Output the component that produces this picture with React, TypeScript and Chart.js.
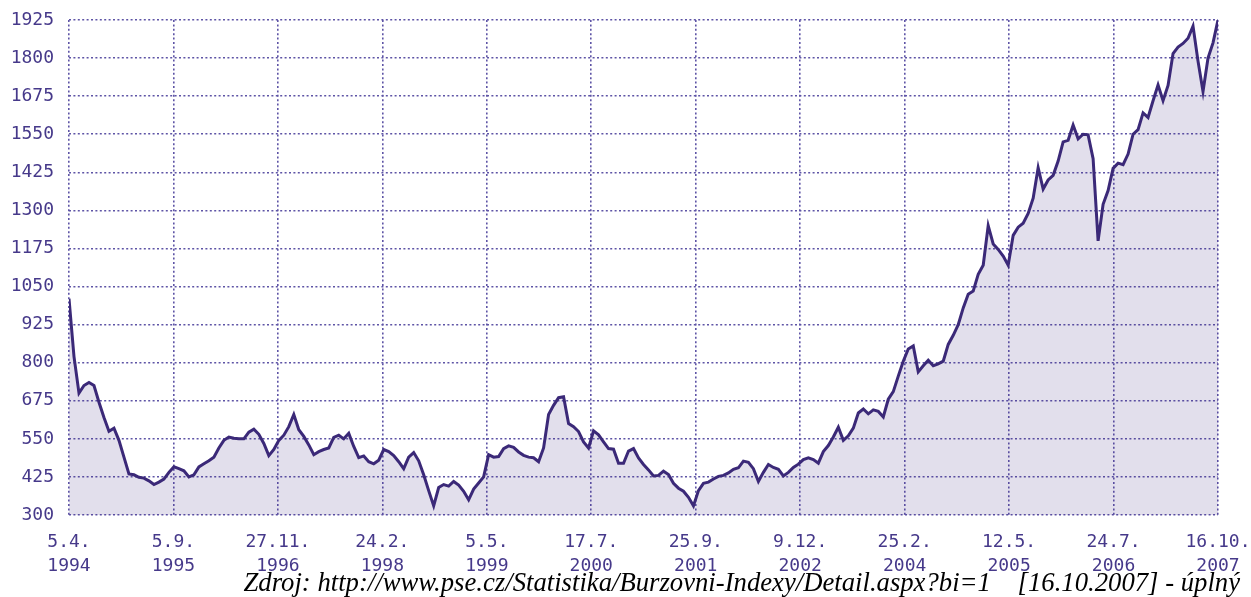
import React, { useEffect, useRef } from "react";
import { Chart, registerables } from "chart.js";

Chart.register(...registerables);

// Tick labels of the x axis (date / year), evenly spaced over the series
const dayLabels = ["5.4.", "5.9.", "27.11.", "24.2.", "5.5.", "17.7.", "25.9.", "9.12.", "25.2.", "12.5.", "24.7.", "16.10."];
const yearLabels = ["1994", "1995", "1996", "1998", "1999", "2000", "2001", "2002", "2004", "2005", "2006", "2007"];

// PX index values, 5.4.1994 – 16.10.2007, sampled evenly
const indexValues = [
  1010, 820, 700, 725, 735, 725, 670, 620, 575, 585,
  545, 490, 435, 432, 424, 421, 412, 400, 408, 418,
  440, 458, 452, 445, 425, 432, 458, 468, 478, 490,
  520, 545, 556, 552, 550, 550, 572, 582, 565, 535,
  495, 515, 545, 562, 590, 630, 580, 558, 530, 498,
  508, 515, 520, 555, 562, 550, 568, 525, 488, 494,
  475, 468, 480, 515, 508, 495, 475, 452, 490, 505,
  478, 432, 380, 330, 390, 400, 395, 410, 398, 378,
  350, 385, 405, 425, 498, 490, 492, 518, 527, 522,
  507, 496, 490, 488, 475, 520, 630, 660, 685, 688,
  600, 590, 574, 540, 520, 576, 563, 540, 518, 516,
  470, 470, 510, 518, 487, 466, 448, 428, 430, 444,
  433, 404, 388, 378, 358, 330, 380, 404, 408, 418,
  427, 430, 438, 450, 455, 477, 473, 452, 410, 440,
  466, 456, 450, 428, 440, 456, 467, 482, 488, 482,
  470, 508, 528, 556, 588, 545, 560, 585, 635, 648,
  632, 645, 640, 622, 680, 705, 756, 805, 845, 855,
  770, 790, 808, 790, 796, 805, 860, 890, 925, 980,
  1025, 1035, 1090, 1120, 1250, 1190, 1172, 1150, 1120, 1218,
  1245, 1258, 1290, 1340, 1440, 1370, 1400, 1415, 1462, 1525,
  1530, 1580, 1535, 1550, 1548, 1470, 1200, 1320, 1365, 1438,
  1455, 1450, 1485, 1550, 1565, 1620, 1605, 1660, 1712, 1660,
  1710, 1815, 1836, 1848, 1865, 1905, 1790, 1690, 1800, 1850,
  1925,
];

const yMin = 300;
const yMax = 1925;
const yStep = 125;

const sourceText = "Zdroj: http://www.pse.cz/Statistika/Burzovni-Indexy/Detail.aspx?bi=1    [16.10.2007] - úplný";

const TEXT = "#46398a";
const GRID = "#5e54a6";

export default function App() {
  const ref = useRef<HTMLCanvasElement | null>(null);

  useEffect(() => {
    if (!ref.current) return;
    const lastIdx = indexValues.length - 1;
    const n = dayLabels.length - 1;
    const chart = new Chart(ref.current, {
      type: "line",
      data: {
        datasets: [
          {
            data: indexValues.map((v, i) => ({ x: i, y: v })),
            borderColor: "#3b2978",
            borderWidth: 3,
            backgroundColor: "rgba(60, 40, 130, 0.15)",
            fill: "start",
            pointRadius: 0,
            tension: 0,
          },
        ],
      },
      options: {
        animation: false,
        responsive: true,
        maintainAspectRatio: false,
        layout: { padding: { left: 0, right: 0, top: 0, bottom: 0 } },
        plugins: { legend: { display: false }, tooltip: { enabled: false } },
        scales: {
          x: {
            type: "linear",
            min: 0,
            max: lastIdx,
            afterBuildTicks: (scale: any) => {
              scale.ticks = dayLabels.map((_, k) => ({ value: (k * lastIdx) / n }));
            },
            afterFit: (scale: any) => {
              scale.height = 82;
              scale.paddingLeft = 0;
              scale.paddingRight = 33;
            },
            ticks: {
              autoSkip: false,
              maxRotation: 0,
              padding: 16,
              color: TEXT,
              font: { family: "DejaVu Sans Mono", size: 18, lineHeight: 1.3 },
              callback: (_v: any, idx: number) => [dayLabels[idx], yearLabels[idx]],
            },
            grid: { color: GRID, lineWidth: 1.6, drawTicks: false },
            border: { display: false, dash: [2, 2.4] },
          },
          y: {
            min: yMin,
            max: yMax,
            afterFit: (scale: any) => {
              scale.width = 69;
              scale.paddingTop = 20;
              scale.paddingBottom = 0;
            },
            ticks: {
              stepSize: yStep,
              padding: 15,
              color: TEXT,
              font: { family: "DejaVu Sans Mono", size: 18 },
              callback: (v: any) => String(v),
            },
            grid: { color: GRID, lineWidth: 1.6, drawTicks: false },
            border: { display: false, dash: [2, 2.4] },
          },
        },
      },
    });
    return () => chart.destroy();
  }, []);

  return (
    <div style={{ position: "absolute", left: 0, top: 0, width: 1251, height: 597, background: "#fff" }}>
      <canvas ref={ref} />
      <div
        style={{
          position: "absolute",
          right: 11,
          top: 567,
          fontFamily: "'Liberation Serif', 'Times New Roman', serif",
          fontStyle: "italic",
          fontSize: 26.7,
          color: "#000",
          whiteSpace: "pre",
          lineHeight: "30px",
        }}
      >
        {sourceText}
      </div>
    </div>
  );
}
